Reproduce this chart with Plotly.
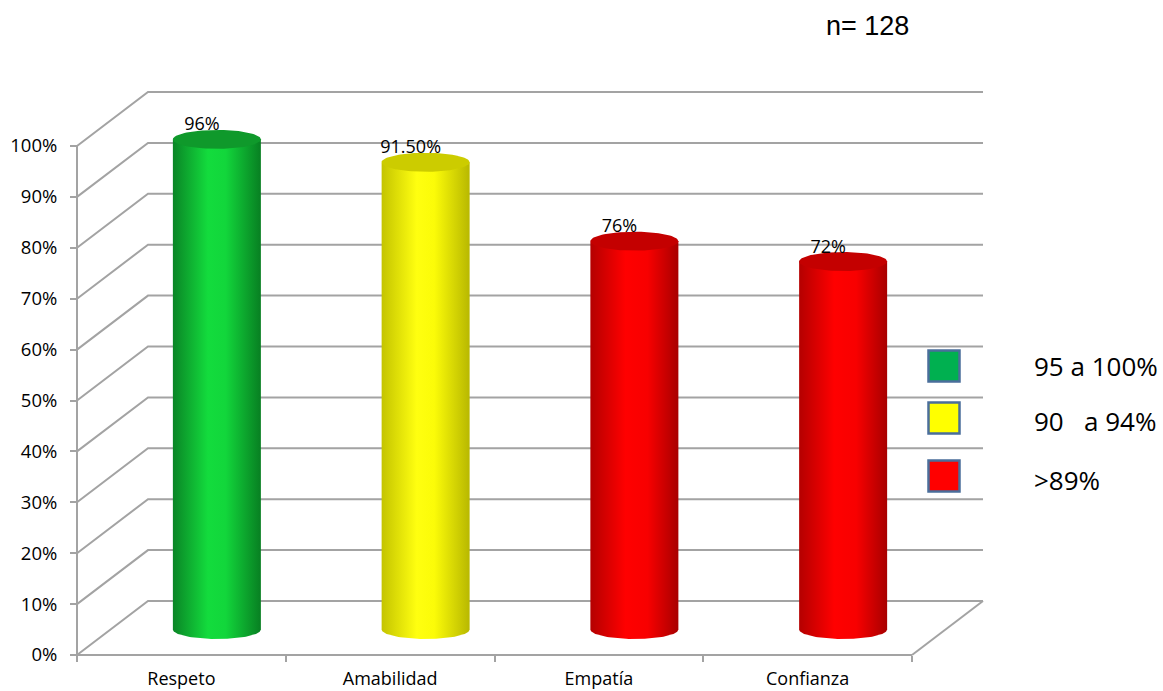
import numpy as np
import plotly.graph_objects as go

# ---------------- data ----------------
categories = ["Respeto", "Amabilidad", "Empatía", "Confianza"]
values = [96, 91.5, 76, 72]
value_labels = ["96%", "91.50%", "76%", "72%"]
value_band = ["95 a 100%", "90 a 94%", ">89%", ">89%"]
legend_bands = ["95 a 100%", "90 a 94%", ">89%"]
legend_texts = ["95 a 100%", "90\u00a0\u00a0\u00a0a 94%", ">89%"]
y_ticks = [0, 10, 20, 30, 40, 50, 60, 70, 80, 90, 100]
sample_note = "n= 128"

# ---------------- style / geometry ----------------
W, H = 1163, 691
px_left, px_right, px_zero, px_hundred = 77, 912, 655, 146
n_cat = len(categories)
ux = (px_right - px_left) / n_cat          # px per category
uy = (px_zero - px_hundred) / 100.0         # px per percent
x_range = [-0.5 - px_left / ux, -0.5 + (W - px_left) / ux]
y_range = [-(H - px_zero) / uy, px_zero / uy]
ddx = 71 / ux   # depth offset in x (data units)
ddy = 54 / uy   # depth offset in y (data units)

grid_color = "#a3a3a3"
band_style = {
    "95 a 100%": dict(body=[[0, "#0a8526"], [0.4, "#13dc3d"], [0.6, "#12d63b"], [1, "#087f22"]],
                       top="#0f992b", legend="#00b050"),
    "90 a 94%": dict(body=[[0, "#c4c400"], [0.4, "#ffff10"], [0.6, "#fbfb08"], [1, "#b8b800"]],
                      top="#cccc00", legend="#ffff00"),
    ">89%": dict(body=[[0, "#b40000"], [0.4, "#ff0000"], [0.65, "#f80000"], [1, "#a80000"]],
                  top="#c40000", legend="#ff0000"),
}

fig = go.Figure()

# ---- walls / gridlines ----
gx, gy = [], []
x_l, x_r = -0.5, n_cat - 0.5
for v in y_ticks:
    gx += [x_l, x_l + ddx, x_r + ddx, None]
    gy += [v, v + ddy, v + ddy, None]
# floor right edge
gx += [x_r, x_r + ddx, None]
gy += [0, ddy, None]
# front floor edge and front left vertical
gx += [x_l, x_r, None, x_l, x_l, None]
gy += [0, 0, None, 0, y_ticks[-1], None]
fig.add_trace(go.Scatter(x=gx, y=gy, mode="lines", line=dict(color=grid_color, width=2),
                         hoverinfo="skip", showlegend=False, cliponaxis=False))

# ---- cylinders ----
rx = 44 / ux
ry = 9.5 / uy
t = np.linspace(0, np.pi, 60)
for i, (cat, v, band) in enumerate(zip(categories, values, value_band)):
    st = band_style[band]
    cx = i + ddx / 2
    base = ddy / 2 - 1.5 / uy
    top = v + ddy / 2
    arc_x = cx + rx * np.cos(np.pi - t)         # from left to right
    arc_y = base - ry * np.sin(t)
    bx = [cx - rx] + [cx + rx] + [cx + rx] + list(arc_x[::-1]) + [cx - rx]
    by = [top] + [top] + [base] + list(arc_y[::-1]) + [top]
    fig.add_trace(go.Scatter(
        x=bx, y=by, mode="lines", fill="toself", line=dict(width=0),
        fillgradient=dict(type="horizontal", colorscale=st["body"]),
        hoverinfo="skip", showlegend=False))
    th = np.linspace(0, 2 * np.pi, 90)
    fig.add_trace(go.Scatter(
        x=cx + rx * np.cos(th), y=top + ry * np.sin(th), mode="lines", fill="toself",
        fillcolor=st["top"], line=dict(width=0), hoverinfo="skip", showlegend=False))
    # value label
    fig.add_trace(go.Scatter(
        x=[cx - 15 / ux], y=[top + 13.5 / uy], mode="text", text=[value_labels[i]],
        textposition="middle center",
        textfont=dict(family="Open Sans", size=18, color="#000000"),
        hoverinfo="skip", showlegend=False, cliponaxis=False))

# ---- legend (manual) ----
shapes = []
annotations = []
legend_cy = [366, 418, 476]
legend_ty = [366, 421, 480]
for band, txt, cy, ty in zip(legend_bands, legend_texts, legend_cy, legend_ty):
    cxp = 944
    s = 15.5
    shapes.append(dict(type="rect", xref="paper", yref="paper",
                       x0=(cxp - s) / W, x1=(cxp + s) / W,
                       y0=1 - (cy + s) / H, y1=1 - (cy - s) / H,
                       fillcolor=band_style[band]["legend"],
                       line=dict(color="#4a6e9b", width=2.5)))
    annotations.append(dict(xref="paper", yref="paper", x=1032 / W, y=1 - ty / H,
                            text=txt, showarrow=False, xanchor="left", yanchor="middle",
                            font=dict(family="Open Sans", size=26, color="#000000")))

annotations.append(dict(xref="paper", yref="paper", x=867 / W, y=1 - 26 / H,
                        text=sample_note, showarrow=False, xanchor="center", yanchor="middle",
                        font=dict(family="Liberation Sans", size=27, color="#000000")))

fig.update_layout(
    width=W, height=H,
    margin=dict(l=0, r=0, t=0, b=0, autoexpand=False),
    paper_bgcolor="#ffffff", plot_bgcolor="#ffffff",
    showlegend=False,
    shapes=shapes, annotations=annotations,
    xaxis=dict(range=x_range, anchor="free", position=(H - px_zero) / H,
               automargin=False,
               tickmode="array", tickvals=list(range(n_cat)), ticktext=categories,
               ticks="outside", ticklen=6, tickcolor="rgba(0,0,0,0)",
               ticklabelstandoff=1,
               minor=dict(tickmode="array", tickvals=[k - 0.5 for k in range(n_cat + 1)],
                          ticks="outside", ticklen=6, tickcolor=grid_color, tickwidth=2,
                          showgrid=False),
               showgrid=False, zeroline=False, showline=False,
               tickfont=dict(family="Open Sans", size=18, color="#000000")),
    yaxis=dict(range=y_range, anchor="free", position=px_left / W,
               automargin=False,
               tickmode="array", tickvals=y_ticks, ticktext=[f"{v}%" for v in y_ticks],
               ticks="outside", ticklen=7, tickcolor=grid_color, tickwidth=2,
               ticklabelstandoff=9,
               showgrid=False, zeroline=False, showline=False,
               tickfont=dict(family="Open Sans", size=18.5, color="#000000")),
)

fig.write_html("out.html")
